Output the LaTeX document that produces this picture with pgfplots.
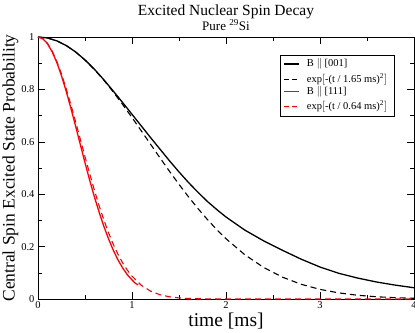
\documentclass[border=0pt]{standalone}
\usepackage{fontspec}
\setmainfont{Liberation Serif}
\usepackage{pgfplots}
\pgfplotsset{compat=1.18}

\begin{document}
\begin{tikzpicture}
\begin{axis}[
  scale only axis, width=376pt, height=262pt,
  xmin=0, xmax=4, ymin=0, ymax=1,
  xtick={0,1,2,3,4}, ytick={0,0.2,0.4,0.6,0.8,1},
  minor x tick num=1, minor y tick num=1,
  tick align=inside, major tick length=7pt, minor tick length=4pt,
  every tick/.style={black, line width=0.5pt},
  axis line style={line width=0.7pt},
  /pgf/number format/assume math mode=true,
  ticklabel style={font=\fontsize{10.5}{12}\selectfont},
  xticklabel style={yshift=1pt},
  title={\fontsize{15.5}{17}\selectfont Excited Nuclear Spin Decay\\[0pt]{\fontsize{13}{14}\selectfont Pure \textsuperscript{29}Si}},
  title style={align=center, yshift=-3pt},
  xlabel={time [ms]}, xlabel style={font=\fontsize{19.5}{21}\selectfont, yshift=3pt},
  ylabel={Central Spin Excited State Probability}, ylabel style={font=\fontsize{17.5}{19}\selectfont, yshift=-4pt},
]
\coordinate (sw) at (rel axis cs:0,0);
\coordinate (ne) at (rel axis cs:1,1);
% B || [001]
\addplot[black, line width=1.3pt] coordinates {
  (0,1) (0.1,0.9963) (0.2,0.9854) (0.3,0.9675) (0.4,0.943) (0.5,0.9125)
  (0.6,0.877) (0.7,0.837) (0.8,0.794) (0.9,0.750) (1.0,0.705) (1.1,0.660)
  (1.2,0.615) (1.3,0.571) (1.4,0.527) (1.5,0.485) (1.6,0.445) (1.7,0.408)
  (1.8,0.373) (1.9,0.342) (2.0,0.313) (2.2,0.263) (2.4,0.222) (2.6,0.186)
  (2.8,0.152) (3.0,0.122) (3.2,0.098) (3.4,0.080) (3.6,0.065) (3.8,0.053) (4.0,0.043)};
% exp[-(t/1.65 ms)^2]
\addplot[black, line width=1.1pt, dash pattern=on 6pt off 4pt] coordinates {
  (0,1) (0.1,0.9963) (0.2,0.9854) (0.3,0.9675) (0.4,0.9429) (0.5,0.9123)
  (0.6,0.8761) (0.7,0.8353) (0.8,0.7905) (0.9,0.7427) (1.0,0.6926) (1.1,0.6412)
  (1.2,0.5893) (1.3,0.5375) (1.4,0.4868) (1.5,0.4376) (1.6,0.3905) (1.7,0.3459)
  (1.8,0.3042) (1.9,0.2655) (2.0,0.2301) (2.2,0.1690) (2.4,0.1205) (2.6,0.0835)
  (2.8,0.0561) (3.0,0.0367) (3.2,0.0233) (3.4,0.0143) (3.6,0.00857) (3.8,0.00497) (4.0,0.0028)};
% B || [111]
\addplot[red, line width=1.3pt] coordinates {
  (0,1) (0.05,0.994) (0.1,0.975) (0.15,0.944) (0.2,0.903) (0.25,0.852)
  (0.3,0.793) (0.35,0.728) (0.4,0.660) (0.45,0.590) (0.5,0.520) (0.55,0.453)
  (0.6,0.390) (0.65,0.332) (0.7,0.278) (0.75,0.230) (0.8,0.187) (0.85,0.150)
  (0.9,0.119) (0.95,0.093) (1.0,0.073) (1.03,0.062) (1.064,0.054)};
% exp[-(t/0.64 ms)^2]
\addplot[red, line width=1.1pt, dash pattern=on 6pt off 4pt] coordinates {
  (0,1) (0.05,0.9939) (0.1,0.9759) (0.15,0.9466) (0.2,0.9070) (0.25,0.8585)
  (0.3,0.8028) (0.35,0.7415) (0.4,0.6766) (0.45,0.6099) (0.5,0.5432) (0.55,0.4778)
  (0.6,0.4152) (0.65,0.3565) (0.7,0.3023) (0.75,0.2533) (0.8,0.2096) (0.85,0.1714)
  (0.9,0.1384) (0.95,0.1104) (1.0,0.0871) (1.1,0.0521) (1.2,0.0297) (1.3,0.0161)
  (1.4,0.00836) (1.5,0.00412) (1.6,0.00193) (1.8,0.00037) (2.0,0.00006) (2.5,0) (3,0) (4,0)};
% legend, drawn by hand
\draw[black, line width=0.5pt, fill=white] (axis description cs:0.6455,0.6985) rectangle (axis description cs:0.9468,0.9286);
\draw[black, line width=1.3pt] (axis description cs:0.6543,0.8969) -- (axis description cs:0.6949,0.8969);
\draw[black, line width=1.1pt, dash pattern=on 5pt off 3pt] (axis description cs:0.6543,0.8385) -- (axis description cs:0.6949,0.8385);
\draw[red, line width=1.3pt] (axis description cs:0.6543,0.7912) -- (axis description cs:0.6949,0.7912);
\draw[red, line width=1.1pt, dash pattern=on 5pt off 3pt] (axis description cs:0.6543,0.7340) -- (axis description cs:0.6949,0.7340);
\begin{scope}[every node/.style={anchor=west, inner sep=0pt, font=\fontsize{10.5}{12}\selectfont}]
\node at (axis description cs:0.7146,0.8969) {B $\parallel$ [001]};
\node at (axis description cs:0.7146,0.8385) {exp$\big[$-(t / 1.65 ms)\textsuperscript{2}$\big]$};
\node at (axis description cs:0.7146,0.7912) {B $\parallel$ [111]};
\node at (axis description cs:0.7146,0.7340) {exp$\big[$-(t / 0.64 ms)\textsuperscript{2}$\big]$};
\end{scope}
\end{axis}
\pgfresetboundingbox
\path ([shift={(-38pt,-33pt)}]sw) rectangle ([shift={(1pt,37pt)}]ne);
\end{tikzpicture}
\end{document}
